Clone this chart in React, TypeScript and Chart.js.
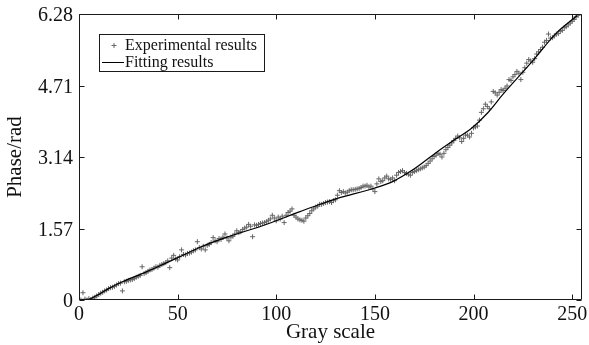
import React, { useEffect, useRef } from "react";
import { Chart, registerables } from "chart.js";

Chart.register(...registerables);

const grayLevelsEven = [
  0, 2, 4, 6, 8, 10, 12, 14, 16, 18, 20, 22, 24, 26, 28, 30, 32, 34, 36, 38,
  40, 42, 44, 46, 48, 50, 52, 54, 56, 58, 60, 62, 64, 66, 68, 70, 72, 74, 76, 78,
  80, 82, 84, 86, 88, 90, 92, 94, 96, 98, 100, 102, 104, 106, 108, 110, 112, 114, 116, 118,
  120, 122, 124, 126, 128, 130, 132, 134, 136, 138, 140, 142, 144, 146, 148, 150, 152, 154, 156, 158,
  160, 162, 164, 166, 168, 170, 172, 174, 176, 178, 180, 182, 184, 186, 188, 190, 192, 194, 196, 198,
  200, 202, 204, 206, 208, 210, 212, 214, 216, 218, 220, 222, 224, 226, 228, 230, 232, 234, 236, 238,
  240, 242, 244, 246, 248, 250, 252,
];

const phaseEven = [
  0.01, 0.16, 0.0, 0.01, 0.06, 0.12, 0.17, 0.22, 0.27, 0.3, 0.36, 0.2, 0.41, 0.44, 0.47, 0.52, 0.73, 0.6, 0.66, 0.7,
  0.72, 0.78, 0.82, 0.71, 0.98, 0.88, 1.1, 0.99, 1.03, 1.08, 1.28, 1.12, 1.1, 1.22, 1.37, 1.28, 1.33, 1.45, 1.3, 1.4,
  1.52, 1.5, 1.58, 1.66, 1.39, 1.64, 1.68, 1.7, 1.75, 1.86, 1.74, 1.78, 1.7, 1.92, 2.0, 1.82, 1.76, 1.73, 1.85, 1.96,
  2.04, 2.1, 2.12, 2.15, 2.14, 2.2, 2.4, 2.38, 2.37, 2.42, 2.43, 2.45, 2.5, 2.52, 2.5, 2.38, 2.66, 2.62, 2.72, 2.65,
  2.62, 2.8, 2.84, 2.78, 2.74, 2.82, 2.86, 2.9, 2.95, 3.05, 3.15, 3.22, 3.14, 3.3, 3.4, 3.5, 3.6, 3.48, 3.62, 3.58,
  3.78, 3.82, 4.12, 4.3, 4.2, 4.58, 4.5, 4.62, 4.65, 4.84, 4.9, 5.02, 4.84, 5.1, 5.28, 5.22, 5.4, 5.5, 5.66, 5.84,
  5.76, 5.84, 5.9, 5.98, 6.04, 6.12, 6.22,
];

const grayLevelsOdd = [
  1, 3, 5, 7, 9, 11, 13, 15, 17, 19, 21, 23, 25, 27, 29, 31, 33, 35, 37, 39,
  41, 43, 45, 47, 49, 51, 53, 55, 57, 59, 61, 63, 65, 67, 69, 71, 73, 75, 77, 79,
  81, 83, 85, 87, 89, 91, 93, 95, 97, 99, 101, 103, 105, 107, 109, 111, 113, 115, 117, 119,
  121, 123, 125, 127, 129, 131, 133, 135, 137, 139, 141, 143, 145, 147, 149, 151, 153, 155, 157, 159,
  161, 163, 165, 167, 169, 171, 173, 175, 177, 179, 181, 183, 185, 187, 189, 191, 193, 195, 197, 199,
  201, 203, 205, 207, 209, 211, 213, 215, 217, 219, 221, 223, 225, 227, 229, 231, 233, 235, 237, 239,
  241, 243, 245, 247, 249, 251, 253,
];

const phaseOdd = [
  0.0, 0.02, 0.03, 0.04, 0.09, 0.15, 0.2, 0.25, 0.28, 0.33, 0.37, 0.4, 0.43, 0.45, 0.5, 0.54, 0.58, 0.63, 0.67, 0.73,
  0.76, 0.8, 0.86, 0.92, 0.9, 0.95, 1.0, 1.02, 1.05, 1.1, 1.15, 1.18, 1.2, 1.26, 1.3, 1.35, 1.38, 1.36, 1.38, 1.45,
  1.48, 1.55, 1.6, 1.62, 1.65, 1.66, 1.69, 1.72, 1.78, 1.8, 1.82, 1.84, 1.86, 1.95, 1.86, 1.78, 1.75, 1.8, 1.9, 2.0,
  2.06, 2.1, 2.14, 2.16, 2.18, 2.3, 2.36, 2.35, 2.4, 2.42, 2.44, 2.47, 2.5, 2.48, 2.44, 2.55, 2.6, 2.68, 2.66, 2.68,
  2.74, 2.82, 2.8, 2.76, 2.8, 2.84, 2.88, 2.92, 3.0, 3.1, 3.18, 3.2, 3.22, 3.35, 3.45, 3.55, 3.56, 3.55, 3.62, 3.66,
  3.8, 3.95, 4.2, 4.25, 4.35, 4.55, 4.56, 4.6, 4.7, 4.82, 4.95, 4.98, 5.0, 5.2, 5.25, 5.3, 5.45, 5.55, 5.7, 5.75,
  5.8, 5.85, 5.92, 6.0, 6.08, 6.16, 6.25,
];

const fitGray = [4.5, 10, 15, 22, 32, 42, 50, 62, 75, 93, 112, 124, 131, 150, 159, 170, 181.5, 191.5, 199, 207, 215, 229, 242, 252.5];
const fitPhase = [0, 0.12, 0.25, 0.4, 0.58, 0.77, 0.93, 1.17, 1.38, 1.63, 1.94, 2.13, 2.23, 2.46, 2.6, 2.88, 3.25, 3.55, 3.77, 4.1, 4.52, 5.2, 5.86, 6.24];

const xTickValues = [0, 50, 100, 150, 200, 250];
const yTickValues = [0, 1.57, 3.14, 4.71, 6.28];
const yTickLabels = ["0", "1.57", "3.14", "4.71", "6.28"];

const seriesLabels = ["Experimental results", "Fitting results"];
const axisTitles = { x: "Gray scale", y: "Phase/rad" };

const FONT = "'Liberation Serif', 'Times New Roman', serif";

const framePlugin = {
  id: "matlabFrame",
  afterDatasetsDraw(chart: any) {
    const { ctx, chartArea: a, scales } = chart;
    ctx.save();
    ctx.strokeStyle = "#1a1a1a";
    ctx.lineWidth = 1;
    const L = Math.round(a.left) + 0.5;
    const R = Math.round(a.right) - 0.5;
    const T = Math.round(a.top) + 0.5;
    const B = Math.round(a.bottom) - 0.5;
    ctx.beginPath();
    ctx.rect(L, T, R - L, B - T);
    ctx.stroke();
    const tl = 5;
    ctx.beginPath();
    scales.x.ticks.forEach((t: any) => {
      const px = Math.round(scales.x.getPixelForValue(t.value)) + 0.5;
      ctx.moveTo(px, B);
      ctx.lineTo(px, B - tl);
      ctx.moveTo(px, T);
      ctx.lineTo(px, T + tl);
    });
    scales.y.ticks.forEach((t: any) => {
      const py = Math.round(scales.y.getPixelForValue(t.value)) + 0.5;
      ctx.moveTo(L, py);
      ctx.lineTo(L + tl, py);
      ctx.moveTo(R, py);
      ctx.lineTo(R - tl, py);
    });
    ctx.stroke();

    // legend box
    const bx = 99.5, by = 34.5, bw = 165, bh = 37;
    ctx.fillStyle = "#ffffff";
    ctx.fillRect(bx, by, bw, bh);
    ctx.strokeRect(bx, by, bw, bh);
    const ds = chart.data.datasets;
    ctx.font = `16px ${FONT}`;
    ctx.fillStyle = "#111";
    ctx.textBaseline = "middle";
    ctx.textAlign = "left";
    const y1 = 45.5;
    ctx.strokeStyle = ds[0].borderColor;
    ctx.lineWidth = 1;
    ctx.beginPath();
    ctx.moveTo(111.5, y1);
    ctx.lineTo(116.5, y1);
    ctx.moveTo(114, y1 - 2.5);
    ctx.lineTo(114, y1 + 2.5);
    ctx.stroke();
    ctx.fillText(ds[0].label, 125, y1);
    const y2 = 62.5;
    ctx.strokeStyle = ds[1].borderColor;
    ctx.beginPath();
    ctx.moveTo(102, y2);
    ctx.lineTo(124, y2);
    ctx.stroke();
    ctx.fillText(ds[1].label, 125, y2);
    ctx.restore();
  },
};

export default function App() {
  const ref = useRef<HTMLCanvasElement | null>(null);

  useEffect(() => {
    if (!ref.current) return;
    const scatterData = [
      ...grayLevelsEven.map((g, i) => ({ x: g, y: phaseEven[i] })),
      ...grayLevelsOdd.map((g, i) => ({ x: g, y: phaseOdd[i] })),
    ];
    const fitData = fitGray.map((g, i) => ({ x: g, y: fitPhase[i] }));
    const chart = new Chart(ref.current, {
      type: "scatter",
      data: {
        datasets: [
          {
            type: "scatter",
            label: seriesLabels[0],
            data: scatterData,
            pointStyle: "cross",
            pointRadius: 2.5,
            pointBorderWidth: 1,
            borderColor: "#666666",
            backgroundColor: "#666666",
            order: 1,
          } as any,
          {
            type: "line",
            label: seriesLabels[1],
            data: fitData,
            borderColor: "#000000",
            borderWidth: 1.2,
            pointRadius: 0,
            cubicInterpolationMode: "monotone",
            fill: false,
            order: 0,
          } as any,
        ],
      },
      options: {
        animation: false,
        responsive: false,
        devicePixelRatio: 1,
        layout: { padding: { top: 14, right: 7, left: 0, bottom: 0 } },
        plugins: { legend: { display: false }, tooltip: { enabled: false } },
        scales: {
          x: {
            type: "linear",
            min: 0,
            max: 255,
            grid: { display: false, drawTicks: false },
            border: { display: false },
            afterBuildTicks: (s: any) => {
              s.ticks = xTickValues.map((v) => ({ value: v }));
            },
            afterFit: (s: any) => {
              s.height = 45;
              s.paddingLeft = 0;
              s.paddingRight = 0;
            },
            ticks: {
              padding: 3,
              color: "#111",
              font: { family: FONT, size: 20 },
              maxRotation: 0,
              autoSkip: false,
              callback: (v: any) => String(v),
            },
            title: {
              display: true,
              text: axisTitles.x,
              color: "#111",
              font: { family: FONT, size: 21 },
              padding: { top: 0, bottom: 0 },
            },
          },
          y: {
            type: "linear",
            min: 0,
            max: 6.28,
            grid: { display: false, drawTicks: false },
            border: { display: false },
            afterBuildTicks: (s: any) => {
              s.ticks = yTickValues.map((v) => ({ value: v }));
            },
            afterFit: (s: any) => {
              s.width = 79;
              s.paddingTop = 0;
              s.paddingBottom = 0;
            },
            ticks: {
              padding: 6,
              color: "#111",
              labelOffset: 2,
              font: { family: FONT, size: 20 },
              autoSkip: false,
              callback: (v: any) => {
                const i = yTickValues.indexOf(Number(v));
                return i >= 0 ? yTickLabels[i] : "";
              },
            },
            title: {
              display: true,
              text: axisTitles.y,
              color: "#111",
              font: { family: FONT, size: 21 },
              padding: { top: 3, bottom: 0 },
            },
          },
        },
      },
      plugins: [framePlugin],
    });
    return () => chart.destroy();
  }, []);

  return (
    <div style={{ position: "absolute", left: 0, top: 0, width: 589, height: 345, background: "#fff" }}>
      <canvas ref={ref} width={589} height={345} style={{ display: "block" }} />
    </div>
  );
}
